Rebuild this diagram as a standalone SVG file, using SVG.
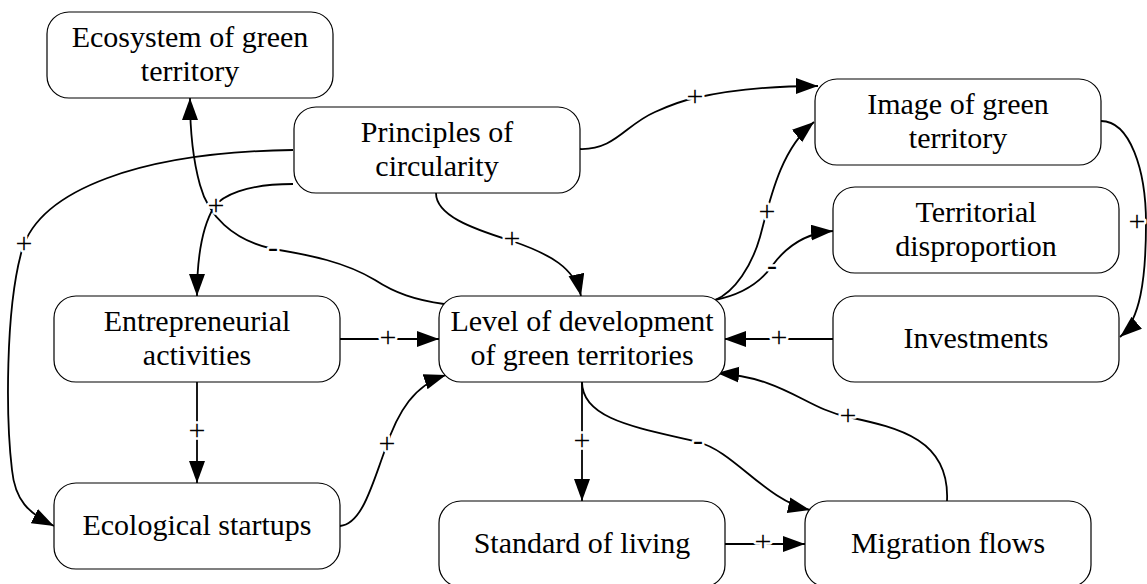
<svg xmlns="http://www.w3.org/2000/svg" width="1147" height="584" viewBox="0 0 1147 584">
<style>
.box{fill:#fff;stroke:#000;stroke-width:1.2}
.t{font-family:"Liberation Serif","Times New Roman",serif;font-size:30px;text-anchor:middle;fill:#000}
.e{fill:none;stroke:#000;stroke-width:1.8;marker-end:url(#ah)}
.l{font-family:"Liberation Serif","Times New Roman",serif;font-size:30px;text-anchor:middle;fill:#000;stroke:#fff;stroke-width:5;paint-order:stroke;stroke-linejoin:round}
</style>
<defs>
<marker id="ah" markerUnits="userSpaceOnUse" markerWidth="23" markerHeight="17" refX="22" refY="8" orient="auto">
<path d="M0,0 L22,8 L0,16 z" fill="#000"/>
</marker>
</defs>
<rect width="1147" height="584" fill="#fff"/>
<g id="connectors">
<path class="e" d="M293,150 C140,152 40,190 22,250 C5,310 6,420 12,470 C15,500 28,513 54,526"/>
<path class="e" d="M293,184 C245,184 222,196 214,207 C205,222 197,250 197,296"/>
<path class="e" d="M444,304 C415,300 395,293 375,280 C345,262 310,255 273,249 C232,240 208,215 200,185 C193,160 190,130 190,98"/>
<path class="e" d="M436,193 C436,215 470,228 512,241 C550,254 575,268 581,296"/>
<path class="e" d="M580,149 C615,150 625,125 655,112 C675,103 685,100 695,98 C730,90 770,86 818,86"/>
<path class="e" d="M715,300 C735,292 752,265 760,237 C770,200 780,150 814,122"/>
<path class="e" d="M715,300 C740,295 760,283 772,266 C785,248 805,233 833,231"/>
<path class="e" d="M1101,121 C1130,121 1146,170 1146,223 C1146,280 1140,320 1120,337"/>
<path class="e" d="M833,339 L724,339"/>
<path class="e" d="M340,339 L439,339"/>
<path class="e" d="M197,382 L197,483"/>
<path class="e" d="M340,526 C362,524 372,485 385,450 C398,410 415,385 446,375"/>
<path class="e" d="M582,382 L582,501"/>
<path class="e" d="M582,382 C582,420 640,428 698,442 C735,452 765,500 810,510"/>
<path class="e" d="M947,501 C950,440 900,428 848,417 C805,408 785,378 717,373"/>
<path class="e" d="M724,544 L805,544"/>
<text class="l" x="24" y="253">+</text>
<text class="l" x="216" y="215">+</text>
<text class="l" x="273" y="257">-</text>
<text class="l" x="512" y="248">+</text>
<text class="l" x="695" y="106">+</text>
<text class="l" x="767" y="221">+</text>
<text class="l" x="772" y="275">-</text>
<text class="l" x="1137" y="231">+</text>
<text class="l" x="779" y="347">+</text>
<text class="l" x="388" y="347">+</text>
<text class="l" x="197" y="440">+</text>
<text class="l" x="387" y="453">+</text>
<text class="l" x="582" y="450">+</text>
<text class="l" x="698" y="450">-</text>
<text class="l" x="848" y="425">+</text>
<text class="l" x="763" y="551">+</text>
</g>
<g id="n-ecosystem"><rect class="box" x="47" y="12" width="286" height="86" rx="22"/><text class="t" x="190" y="47">Ecosystem of green</text><text class="t" x="190" y="81">territory</text></g>
<g id="n-principles"><rect class="box" x="294" y="107" width="286" height="86" rx="22"/><text class="t" x="437" y="142">Principles of</text><text class="t" x="437" y="176">circularity</text></g>
<g id="n-image"><rect class="box" x="815" y="79" width="286" height="86" rx="22"/><text class="t" x="958" y="114">Image of green</text><text class="t" x="958" y="148">territory</text></g>
<g id="n-territorial"><rect class="box" x="833" y="187" width="286" height="86" rx="22"/><text class="t" x="976" y="222">Territorial</text><text class="t" x="976" y="256">disproportion</text></g>
<g id="n-entrepreneurial"><rect class="box" x="54" y="296" width="286" height="86" rx="22"/><text class="t" x="197" y="331">Entrepreneurial</text><text class="t" x="197" y="365">activities</text></g>
<g id="n-level"><rect class="box" x="439" y="296" width="286" height="86" rx="22"/><text class="t" x="582" y="331">Level of development</text><text class="t" x="582" y="365">of green territories</text></g>
<g id="n-investments"><rect class="box" x="833" y="296" width="286" height="86" rx="22"/><text class="t" x="976" y="348">Investments</text></g>
<g id="n-ecological"><rect class="box" x="54" y="483" width="286" height="86" rx="22"/><text class="t" x="197" y="535">Ecological startups</text></g>
<g id="n-standard"><rect class="box" x="439" y="501" width="286" height="86" rx="22"/><text class="t" x="582" y="553">Standard of living</text></g>
<g id="n-migration"><rect class="box" x="805" y="501" width="286" height="86" rx="22"/><text class="t" x="948" y="553">Migration flows</text></g>
</svg>
